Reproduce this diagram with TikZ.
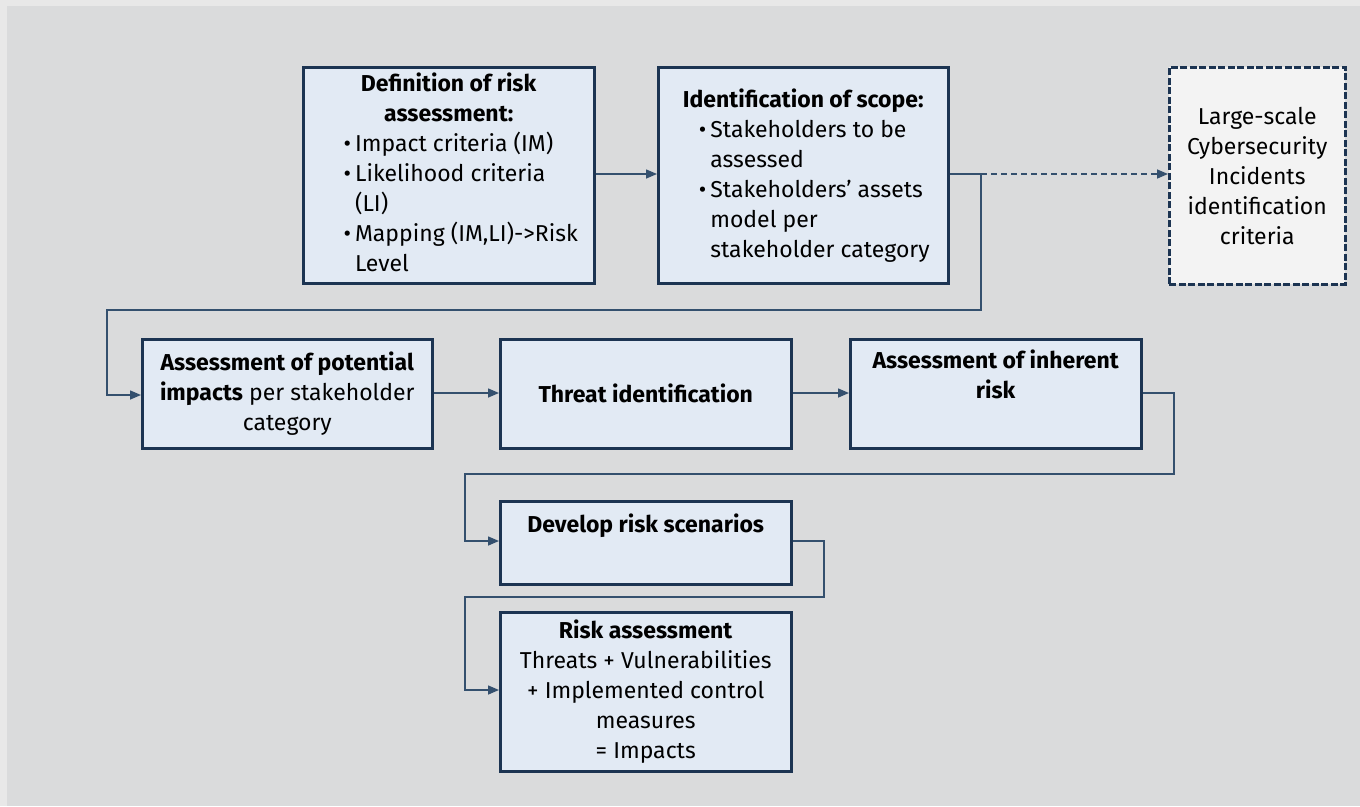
\documentclass[tikz,border=0pt]{standalone}
\usepackage{fontspec}
\setmainfont{Fira Sans}
\usetikzlibrary{arrows.meta}
\definecolor{bgouter}{HTML}{E8E8E8}
\definecolor{bginner}{HTML}{DADBDC}
\definecolor{boxfill}{HTML}{E2EAF4}
\definecolor{boxdraw}{HTML}{1C3452}
\definecolor{linecol}{HTML}{34506E}
\definecolor{dashfill}{HTML}{F3F3F3}
\tikzset{
  stepbox/.style={draw=boxdraw, line width=2.5pt, fill=boxfill, inner sep=0pt, anchor=north west, align=center,
    font=\fontsize{23}{30}\selectfont},
  dashbox/.style={stepbox, fill=dashfill, dash pattern=on 7pt off 2.5pt, line width=2.5pt},
  conn/.style={draw=linecol, line width=1.5pt, -{Triangle[length=11pt,width=9pt]}},
  plainconn/.style={draw=linecol, line width=1.5pt},
}
\begin{document}
\begin{tikzpicture}[x=1pt,y=-1pt]
\useasboundingbox (0,0) rectangle (1360,806);
\fill[bgouter] (0,0) rectangle (1360,806);
\fill[bginner] (7,6) rectangle (1360,806);
% boxes
\node[stepbox, minimum width=291pt, minimum height=216pt] (b1) at (302,66) {};
\node[align=center, font=\fontsize{23}{30}\selectfont, anchor=north] (t1) at ([yshift=-3pt]b1.north)
  {\textbf{Definition of risk}\\\textbf{assessment:}\\
   \hspace*{24pt}\begin{tabular}[t]{@{}l@{\hspace{4pt}}l@{}}
   \textbullet & Impact criteria (IM)\\
   \textbullet & Likelihood criteria\\
    & (LI)\\
   \textbullet & Mapping (IM,LI)->Risk\\
    & Level
   \end{tabular}};
\node[stepbox, minimum width=290pt, minimum height=216pt] (b2) at (657,66) {};
\node[align=center, font=\fontsize{23}{30}\selectfont, anchor=north] (t2) at ([yshift=-19pt]b2.north)
  {\textbf{Identification of scope:}\\
   \hspace*{22pt}\begin{tabular}[t]{@{}l@{\hspace{4pt}}l@{}}
   \textbullet & Stakeholders to be\\
    & assessed\\
   \textbullet & Stakeholders' assets\\
    & model per\\
    & stakeholder category
   \end{tabular}};
\node[dashbox, minimum width=176pt, minimum height=217pt] (b3) at (1168,66)
  {Large-scale\\Cybersecurity\\Incidents\\identification\\criteria};
\node[stepbox, minimum width=290pt, minimum height=109pt] (b4) at (141,338)
  {\textbf{Assessment of potential}\\\textbf{impacts} per stakeholder\\category};
\node[stepbox, minimum width=291pt, minimum height=109pt] (b5) at (499,338)
  {\textbf{Threat identification}};
\node[stepbox, minimum width=291pt, minimum height=109pt] (b6) at (849,338)
  {\textbf{Assessment of inherent}\\\textbf{risk}\\\strut};
\node[stepbox, minimum width=291pt, minimum height=83pt] (b7) at (499,500)
  {\textbf{Develop risk scenarios}\\\strut};
\node[stepbox, minimum width=291pt, minimum height=159pt] (b8) at (499,611)
  {\textbf{Risk assessment}\\Threats + Vulnerabilities\\+ Implemented control\\measures\\= Impacts};
% connectors
\coordinate (j1) at (981,174);
\draw[conn] (b1.east |- 0,174) -- (b2.west |- 0,174);
\draw[plainconn] (b2.east |- 0,174) -- (j1);
\draw[conn, dash pattern=on 6pt off 4pt] (j1) -- (b3.west |- 0,174);
\draw[conn] (j1) -- (981,310) -- (107,310) -- (107,395) -- (b4.west |- 0,395);
\draw[conn] (b4.east |- 0,393) -- (b5.west |- 0,393);
\draw[conn] (b5.east |- 0,393) -- (b6.west |- 0,393);
\draw[conn] (b6.east |- 0,393) -- (1174,393) -- (1174,474) -- (465,474) -- (465,541) -- (b7.west |- 0,541);
\draw[conn] (b7.east |- 0,541) -- (824,541) -- (824,597) -- (465,597) -- (465,690) -- (b8.west |- 0,690);
\end{tikzpicture}
\end{document}
